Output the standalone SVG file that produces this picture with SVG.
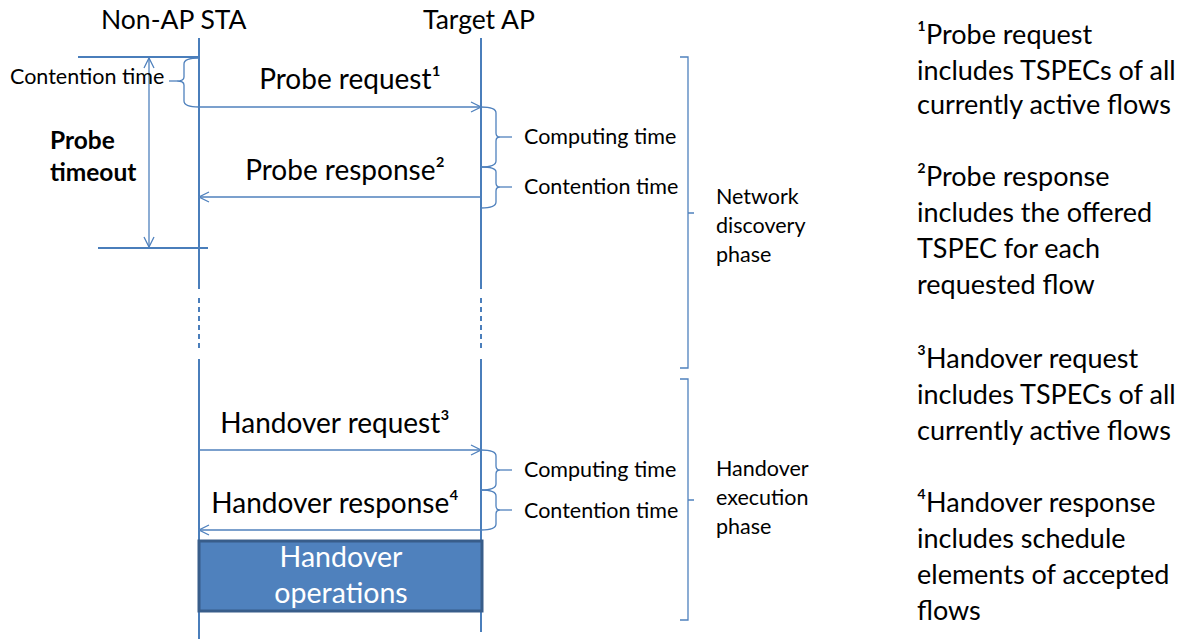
<svg xmlns="http://www.w3.org/2000/svg" width="1189" height="639" viewBox="0 0 1189 639">
  <defs>
    <style>
      text { font-family: Lato, "Liberation Sans", sans-serif; fill: #000; }
      .life { stroke: #4A7EBB; stroke-width: 2; fill: none; }
      .dash { stroke: #4A7EBB; stroke-width: 2; stroke-dasharray: 5 4; fill: none; }
      .msg { stroke: #4F81BD; stroke-width: 1.3; fill: none; }
      .brace { stroke: #4F81BD; stroke-width: 1.3; fill: none; }
      .title { font-size: 26.5px; }
      .label { font-size: 28px; }
      .small { font-size: 21.5px; }
      .phase { font-size: 21.5px; }
      .note { font-size: 27px; }
      .bold { font-size: 24.5px; font-weight: bold; }
      .inbox { font-size: 28.5px; fill: #fff; }
    </style>
    <marker id="open" viewBox="0 0 12 12" refX="11" refY="6" markerWidth="12" markerHeight="12" markerUnits="userSpaceOnUse" orient="auto-start-reverse">
      <path d="M1,1 L11,6 L1,11" fill="none" stroke="#4F81BD" stroke-width="1.3"/>
    </marker>
  </defs>

  <!-- lifelines -->
  <g id="non-ap-sta">
    <text class="title" x="101" y="29">Non-AP STA</text>
    <line class="life" x1="199" y1="38" x2="199" y2="289"/>
    <line class="dash" x1="199" y1="298" x2="199" y2="350"/>
    <line class="life" x1="199" y1="359" x2="199" y2="639"/>
  </g>
  <g id="target-ap">
    <text class="title" x="423" y="29">Target AP</text>
    <line class="life" x1="481" y1="38" x2="481" y2="289"/>
    <line class="dash" x1="481" y1="298" x2="481" y2="350"/>
    <line class="life" x1="481" y1="359" x2="481" y2="632"/>
  </g>

  <!-- probe timeout span -->
  <g id="probe-timeout">
    <line class="life" x1="78" y1="57" x2="199" y2="57"/>
    <line class="life" x1="98" y1="248" x2="208" y2="248"/>
    <line class="msg" x1="149" y1="58" x2="149" y2="247" marker-start="url(#open)" marker-end="url(#open)"/>
    <text class="bold" x="50" y="149">Probe</text>
    <text class="bold" x="50" y="181">timeout</text>
    <path class="brace" d="M199,58 Q184,58 184,64 L184,77 Q184,81 177,81 Q184,81 184,85 L184,101 Q184,107 199,107"/>
    <line class="brace" x1="169" y1="81" x2="177" y2="81"/>
    <text class="small" x="10" y="84">Contention time</text>
  </g>

  <!-- messages -->
  <g id="connectors">
    <line class="msg" x1="199" y1="107" x2="481" y2="107" marker-end="url(#open)"/>
    <line class="msg" x1="481" y1="197" x2="199" y2="197" marker-end="url(#open)"/>
    <line class="msg" x1="199" y1="450" x2="481" y2="450" marker-end="url(#open)"/>
    <line class="msg" x1="481" y1="530" x2="199" y2="530" marker-end="url(#open)"/>
  </g>

  <g id="probe-request">
    <text class="label" x="350" y="89" text-anchor="middle">Probe request¹</text>
  </g>
  <g id="probe-response">
    <text class="label" x="345" y="180" text-anchor="middle">Probe response²</text>
  </g>
  <g id="handover-request">
    <text class="label" x="335" y="433" text-anchor="middle">Handover request³</text>
  </g>
  <g id="handover-response">
    <text class="label" x="335" y="513" text-anchor="middle">Handover response⁴</text>
  </g>

  <!-- timing braces at the target AP -->
  <g id="probe-timing">
    <path class="brace" d="M481,107 Q496,107 496,113 L496,133 Q496,137 500,137 Q496,137 496,141 L496,161 Q496,167 481,167"/>
    <line class="brace" x1="500" y1="137" x2="512" y2="137"/>
    <path class="brace" d="M481,167 Q496,167 496,172 L496,183 Q496,187 500,187 Q496,187 496,191 L496,202 Q496,208 481,208"/>
    <line class="brace" x1="500" y1="187" x2="512" y2="187"/>
    <text class="small" x="524" y="144">Computing time</text>
    <text class="small" x="524" y="194">Contention time</text>
  </g>
  <g id="handover-timing">
    <path class="brace" d="M481,450 Q496,450 496,456 L496,466 Q496,470 500,470 Q496,470 496,474 L496,484 Q496,490 481,490"/>
    <line class="brace" x1="500" y1="470" x2="512" y2="470"/>
    <path class="brace" d="M481,490 Q496,490 496,496 L496,506 Q496,510 500,510 Q496,510 496,514 L496,524 Q496,530 481,530"/>
    <line class="brace" x1="500" y1="510" x2="512" y2="510"/>
    <text class="small" x="524" y="477">Computing time</text>
    <text class="small" x="524" y="518">Contention time</text>
  </g>

  <!-- phase brackets -->
  <g id="network-discovery-phase">
    <path class="brace" d="M680,57 L688,57 L688,368 L680,368 M688,213 L694,213"/>
    <text class="phase" x="716" y="204">Network</text>
    <text class="phase" x="716" y="233">discovery</text>
    <text class="phase" x="716" y="262">phase</text>
  </g>
  <g id="handover-execution-phase">
    <path class="brace" d="M680,379 L688,379 L688,620 L680,620 M688,500 L694,500"/>
    <text class="phase" x="716" y="476">Handover</text>
    <text class="phase" x="716" y="505">execution</text>
    <text class="phase" x="716" y="534">phase</text>
  </g>

  <!-- handover operations block -->
  <g id="handover-operations">
    <rect x="199" y="541" width="283" height="70" fill="#4F81BD" stroke="#385D8A" stroke-width="3"/>
    <text class="inbox" x="341" y="567" text-anchor="middle">Handover</text>
    <text class="inbox" x="341" y="603" text-anchor="middle">operations</text>
  </g>

  <!-- footnotes -->
  <g id="notes">
    <text class="note" x="917" y="44">¹Probe request</text>
    <text class="note" x="917" y="80">includes TSPECs of all</text>
    <text class="note" x="917" y="114">currently active flows</text>
    <text class="note" x="917" y="186">²Probe response</text>
    <text class="note" x="917" y="222">includes the offered</text>
    <text class="note" x="917" y="258">TSPEC for each</text>
    <text class="note" x="917" y="294">requested flow</text>
    <text class="note" x="917" y="368">³Handover request</text>
    <text class="note" x="917" y="404">includes TSPECs of all</text>
    <text class="note" x="917" y="440">currently active flows</text>
    <text class="note" x="917" y="512">⁴Handover response</text>
    <text class="note" x="917" y="548">includes schedule</text>
    <text class="note" x="917" y="584">elements of accepted</text>
    <text class="note" x="917" y="620">flows</text>
  </g>
</svg>
